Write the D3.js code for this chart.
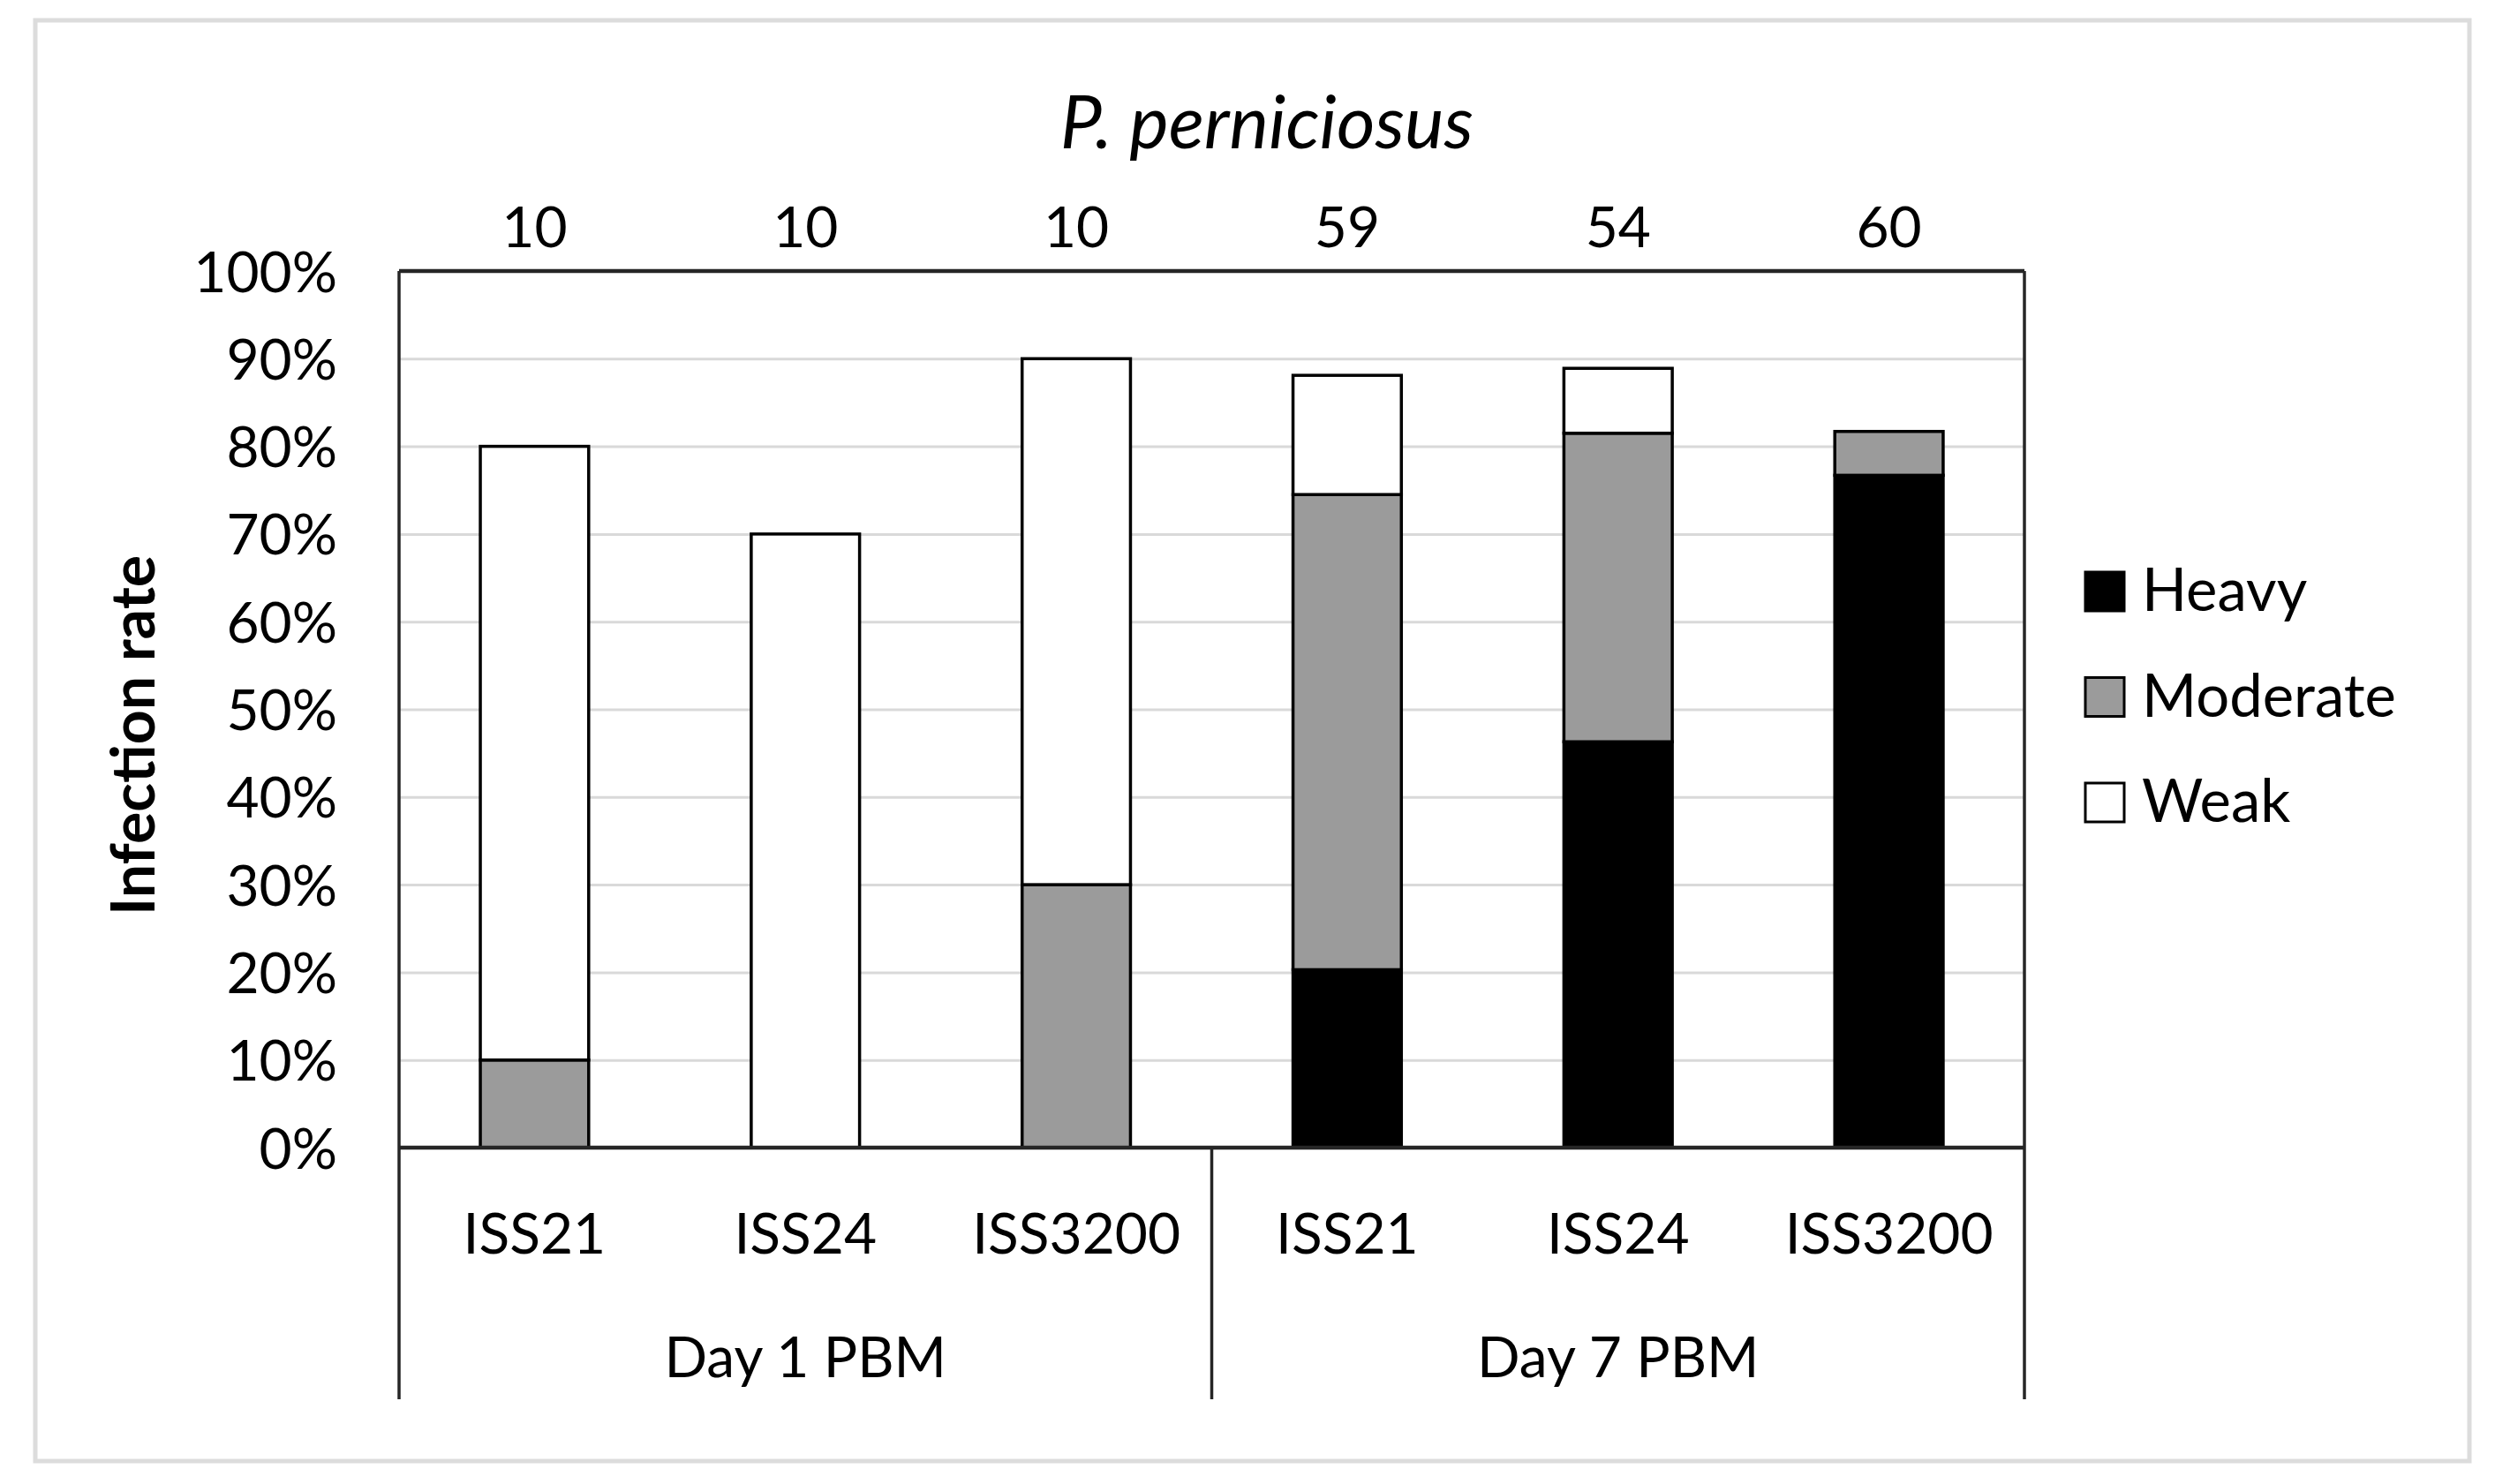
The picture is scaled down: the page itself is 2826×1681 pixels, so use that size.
<!DOCTYPE html>
<html lang="en">
<head>
    <meta charset="UTF-8">
    <title>P. perniciosus infection rate</title>
    <script src="https://d3js.org/d3.v7.min.js"></script>
    <style>
        body { margin: 0; background: #fff; }
        text { font-family: Lato, "Open Sans", sans-serif; fill: #000; }
        .grid line { stroke: #d9d9d9; stroke-width: 3px; }
        .grid .domain { display: none; }
    </style>
</head>
<body>
    <div id="chart"></div>

    <script>
        // Data (percent of fed females)
        const groups = ["Day 1 PBM", "Day 7 PBM"];
        const strains = ["ISS21", "ISS24", "ISS3200", "ISS21", "ISS24", "ISS3200"];
        const sampleSizes = [10, 10, 10, 59, 54, 60];
        const series = ["Heavy", "Moderate", "Weak"];
        const heavy = [0, 0, 0, 20.3, 46.3, 76.7];
        const moderate = [10, 0, 30, 54.2, 35.2, 5.0];
        const weak = [70, 70, 60, 13.6, 7.4, 0];
        const yTicks = [0, 10, 20, 30, 40, 50, 60, 70, 80, 90, 100];
        const colors = ["#000000", "#9b9b9b", "#ffffff"];

        const width = 2826, height = 1681;
        const plot = {left: 452, right: 2293, top: 307, bottom: 1300};
        const catBottom = 1585;

        const svg = d3.select("#chart").append("svg")
            .attr("width", width)
            .attr("height", height);

        // light frame around the whole figure
        svg.append("rect")
            .attr("x", 40).attr("y", 23)
            .attr("width", 2757).attr("height", 1632)
            .attr("fill", "#fff")
            .attr("stroke", "#dcdcdc")
            .attr("stroke-width", 5);

        const rows = strains.map(function(s, i) {
            return {i: i, Heavy: heavy[i], Moderate: moderate[i], Weak: weak[i]};
        });

        const x = d3.scaleBand()
            .domain(d3.range(strains.length))
            .range([plot.left, plot.right]);

        const y = d3.scaleLinear()
            .domain([0, 100])
            .range([plot.bottom, plot.top]);

        const color = d3.scaleOrdinal().domain(series).range(colors);

        // gridlines
        svg.append("g")
            .attr("class", "grid")
            .attr("transform", "translate(" + plot.left + ",0)")
            .call(d3.axisLeft(y).tickValues(yTicks).tickSize(-(plot.right - plot.left)).tickFormat(""));

        // y tick labels
        const yAxis = svg.append("g")
            .attr("transform", "translate(" + (plot.left - 70) + ",0)")
            .call(d3.axisLeft(y).tickValues(yTicks).tickSize(0).tickPadding(0)
                .tickFormat(function(d) { return d + "%"; }));
        yAxis.select(".domain").remove();
        yAxis.selectAll("text")
            .style("font-size", "64px")
            .attr("dy", "0.36em")
            .attr("fill", "#000");

        // stacked bars
        const stacked = d3.stack().keys(series)(rows);
        const barW = x.bandwidth() * 0.4;

        svg.append("g")
            .selectAll("g")
            .data(stacked)
            .enter().append("g")
            .attr("fill", function(d) { return color(d.key); })
            .selectAll("rect")
            .data(function(d) { return d.filter(function(p) { return p[1] - p[0] > 0; }); })
            .enter().append("rect")
            .attr("x", function(d) { return x(d.data.i) + (x.bandwidth() - barW) / 2; })
            .attr("y", function(d) { return y(d[1]); })
            .attr("width", barW)
            .attr("height", function(d) { return y(d[0]) - y(d[1]); })
            .attr("stroke", "#000")
            .attr("stroke-width", 3.5);

        // plot frame: top, sides and baseline
        const frame = svg.append("g")
            .attr("stroke", "#262626")
            .attr("fill", "none");
        frame.append("line")
            .attr("x1", plot.left).attr("x2", plot.right)
            .attr("y1", plot.top).attr("y2", plot.top)
            .attr("stroke-width", 4.5);
        frame.append("line")
            .attr("x1", plot.left).attr("x2", plot.right)
            .attr("y1", plot.bottom).attr("y2", plot.bottom)
            .attr("stroke-width", 4.5);
        [plot.left, x(3), plot.right].forEach(function(xx, k) {
            frame.append("line")
                .attr("x1", xx).attr("x2", xx)
                .attr("y1", k === 1 ? plot.bottom : plot.top)
                .attr("y2", catBottom)
                .attr("stroke-width", 3.5);
        });

        // category labels
        const xAxis = svg.append("g")
            .attr("transform", "translate(0," + plot.bottom + ")")
            .call(d3.axisBottom(x).tickSize(0).tickPadding(0)
                .tickFormat(function(i) { return strains[i]; }));
        xAxis.select(".domain").remove();
        xAxis.selectAll("text")
            .attr("y", 120)
            .attr("dy", null)
            .style("font-size", "64px")
            .attr("fill", "#000");

        // group labels
        svg.selectAll(".group-label")
            .data(groups)
            .enter().append("text")
            .attr("class", "group-label")
            .attr("x", function(d, g) { return (x(g * 3) + x(g * 3 + 2) + x.bandwidth()) / 2; })
            .attr("y", 1560)
            .attr("text-anchor", "middle")
            .style("font-size", "64px")
            .text(function(d) { return d; });

        // sample sizes above bars
        svg.selectAll(".n-label")
            .data(sampleSizes)
            .enter().append("text")
            .attr("class", "n-label")
            .attr("x", function(d, i) { return x(i) + x.bandwidth() / 2; })
            .attr("y", 280)
            .attr("text-anchor", "middle")
            .style("font-size", "64px")
            .text(function(d) { return d; });

        // title
        svg.append("text")
            .attr("x", 1435)
            .attr("y", 168)
            .attr("text-anchor", "middle")
            .style("font-size", "84px")
            .style("font-style", "italic")
            .text("P. perniciosus");

        // y axis title
        svg.append("text")
            .attr("transform", "translate(175," + 833 + ") rotate(-90)")
            .attr("text-anchor", "middle")
            .style("font-size", "68px")
            .style("font-weight", "bold")
            .text("Infection rate");

        // legend
        const legend = svg.append("g")
            .attr("transform", "translate(2362,648)");
        const item = legend.selectAll("g")
            .data(series)
            .enter().append("g")
            .attr("transform", function(d, i) { return "translate(0," + i * 119.5 + ")"; });
        item.append("rect")
            .attr("width", 44).attr("height", 44)
            .attr("fill", function(d) { return color(d); })
            .attr("stroke", "#000")
            .attr("stroke-width", 3);
        item.append("text")
            .attr("x", 64)
            .attr("y", 44)
            .style("font-size", "67px")
            .text(function(d) { return d; });
    </script>
</body>
</html>
